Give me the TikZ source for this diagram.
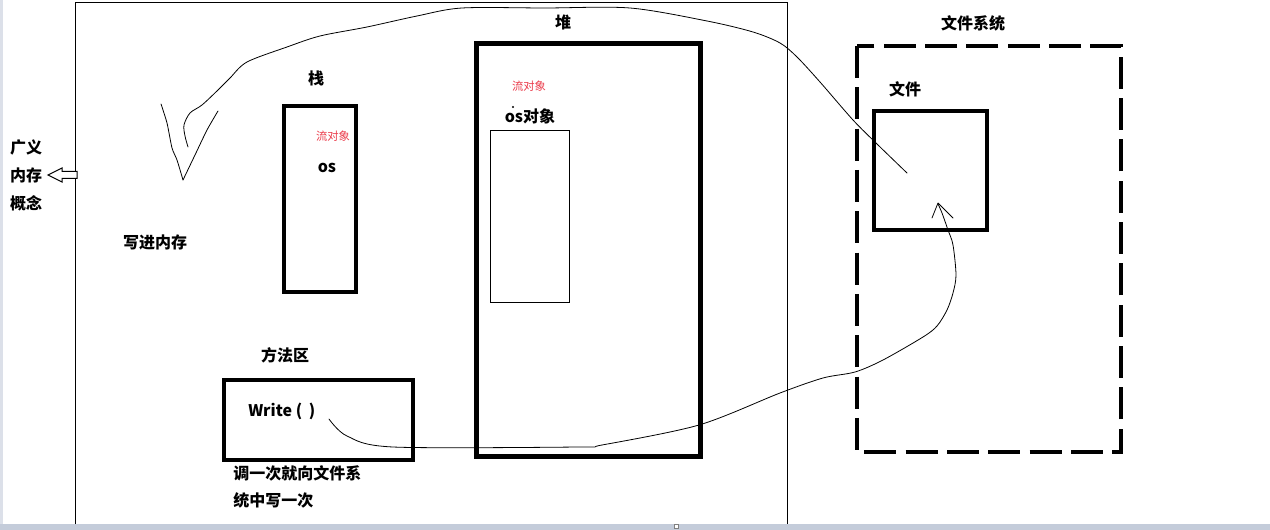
\documentclass[tikz,border=0pt]{standalone}
\usepackage{fontspec}
\newfontfamily\cjk{Noto Sans CJK SC}
\usetikzlibrary{positioning}
\definecolor{redtxt}{RGB}{235,60,75}
\definecolor{stripc}{RGB}{196,204,218}
\begin{document}
\begin{tikzpicture}[x=0.75pt,y=-0.75pt,
  lbl/.style={font=\cjk\bfseries\fontsize{12pt}{14pt}\selectfont, inner sep=0pt, anchor=center},
  redlbl/.style={font=\cjk\fontsize{8.5pt}{10pt}\selectfont, text=redtxt, inner sep=0pt},
  thin/.style={line width=0.75pt},
  thick box/.style={line width=3pt},
  heapbox/.style={line width=3.75pt},
  dashbox/.style={line width=3.4pt, dash pattern=on 24pt off 7pt},
  hand/.style={line width=0.6pt, line join=round, line cap=round}]
\useasboundingbox (0,0) rectangle (1270,530);
\fill[white] (0,0) rectangle (1270,530);
% window strips
\fill[stripc!60] (0,0) rectangle (3,524);
\fill[stripc] (0,524) rectangle (1270,530);
\draw[gray, line width=0.6pt, fill=white] (674,524) rectangle (678,528);
% outer memory frame
\draw[thin] (75,524) -- (75,2.5) -- (787.5,2.5) -- (787.5,524);
% stack
\draw[thick box] (284,106) rectangle (356,292);
\node[lbl] (stackl) at (316,78) {栈};
\node[redlbl] (stackred) at (333,136) {流对象};
\node[lbl] (os) at (327,168) {os};
% heap
\draw[heapbox] (476.5,43.5) rectangle (700.5,456.5);
\node[lbl] (heapl) at (563,22) {堆};
\node[redlbl] (heapred) at (529,86) {流对象};
\node[lbl] (osobj) at (530,116) {os对象};
\fill (513,107) circle (1.1);
\draw[thin] (490.5,130.5) rectangle (569.5,302.5);
% method area
\draw[thick box] (224,380) rectangle (413,460);
\node[lbl] (methodl) at (285,355) {方法区};
\node[lbl, anchor=west] (write) at (248,411) {Write (\hspace{5pt})};
\node[lbl, anchor=west] (note1) at (233,473) {调一次就向文件系};
\node[lbl, anchor=west] (note2) at (233,500) {统中写一次};
% left labels
\node[lbl] (g1) at (26,147) {广义};
\node[lbl] (g2) at (26,175) {内存};
\node[lbl] (g3) at (26,203) {概念};
\draw[thin, fill=white, line join=miter] (48,175) -- (62,168) -- (62,171.5) -- (77,171.5) -- (77,178.5) -- (62,178.5) -- (62,182) -- cycle;
\node[lbl] (writemem) at (155,242) {写进内存};
% file system
\draw[dashbox] (857,46) rectangle (1121,452);
\node[lbl] (fsl) at (973,23) {文件系统};
\draw[thick box] (874,111) rectangle (987,230);
\node[lbl] (filel) at (905,89) {文件};
% curve: file -> memory
\coordinate (c1s) at (907,173);
\coordinate (c1e) at (188,147);
\draw[hand] plot[smooth, tension=0.5] coordinates {(c1s) (877,144) (853,120) (820,82) (797,57) (780,43) (753,32) (707,21) (630,8) (545,8) (462,8) (417,16) (367,27) (320,36) (287,47) (247,62) (230,78) (218,90) (202,105) (190,113) (184,125) (185,136) (c1e)};
\draw[hand] plot[smooth, tension=0.4] coordinates {(161,104) (167,123) (172,148) (177,160) (183,180)};
\draw[hand] plot[smooth, tension=0.4] coordinates {(183,180) (195,155) (207,130) (218,111)};
% curve: write -> file
\coordinate (c2s) at (329,419);
\coordinate (c2e) at (938,204);
\draw[hand] plot[smooth, tension=0.5] coordinates {(c2s) (347,436) (393,447) (579,447) (602,445) (699,425) (780,393) (823,378) (855,372) (883,360) (923,337) (937,326) (947,310) (953,293) (956,275) (953,245) (948,230) (942,213) (c2e)};
\draw[hand] (932,218) -- (938,203) -- (953,218);
\end{tikzpicture}
\end{document}
